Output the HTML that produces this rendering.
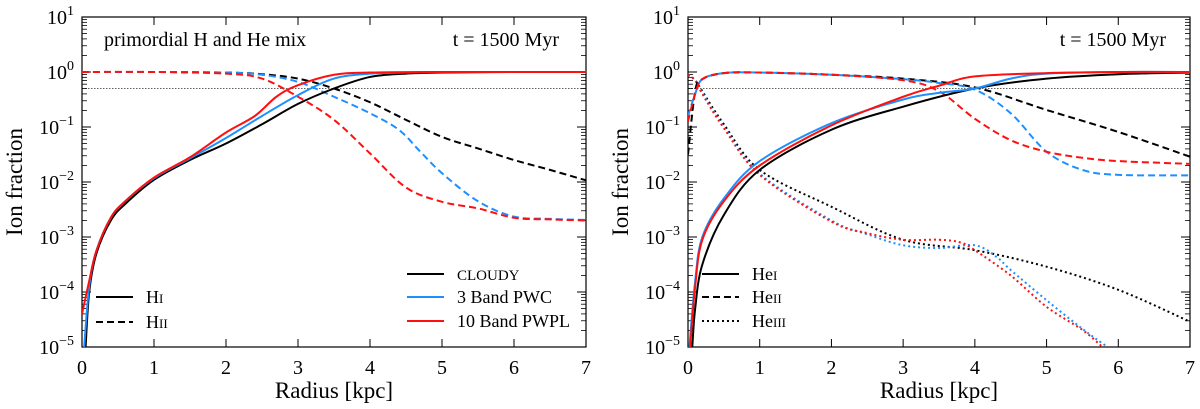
<!DOCTYPE html>
<html><head><meta charset="utf-8"><style>
body{margin:0;background:#fff;font-family:"Liberation Serif",serif;}
svg{display:block;}
</style></head><body>
<svg id="c" width="1200" height="409" viewBox="0 0 1200 409" style="font-family:'Liberation Serif','DejaVu Serif',serif"></svg>
<script>
// left panel series: [x kpc, log10 value]
const hiCloudy=[[0.05,-5],[0.1,-4],[0.2,-3.3],[0.4,-2.7],[0.6,-2.4],[1,-1.96],[1.5,-1.6],[2,-1.3],[2.5,-0.95],[3,-0.58],[3.5,-0.3],[4,-0.09],[4.5,-0.03],[5,-0.01],[6,0],[7,0]];
const hiPwc=[[0.03,-5],[0.1,-3.9],[0.2,-3.25],[0.4,-2.65],[0.6,-2.35],[1,-1.93],[1.5,-1.57],[2,-1.2],[2.5,-0.8],[3,-0.42],[3.5,-0.12],[4,-0.03],[4.5,-0.01],[5,0],[7,0]];
const hiPwpl=[[0,-4.4],[0.1,-3.8],[0.2,-3.25],[0.4,-2.65],[0.6,-2.35],[1,-1.92],[1.5,-1.55],[2,-1.1],[2.4,-0.8],[2.7,-0.45],[3,-0.24],[3.5,-0.05],[4,-0.01],[5,0],[7,0]];
const hiiCloudy=[[0,0],[1,0],[2,-0.01],[2.5,-0.04],[3,-0.12],[3.5,-0.3],[4,-0.55],[4.5,-0.87],[5,-1.18],[5.5,-1.39],[6,-1.6],[6.5,-1.78],[7,-1.97]];
const hiiPwc=[[0,0],[1,0],[2,-0.01],[2.5,-0.05],[3,-0.18],[3.5,-0.45],[4,-0.75],[4.4,-1.05],[4.7,-1.45],[5,-1.84],[5.5,-2.35],[6,-2.63],[6.5,-2.67],[7,-2.69]];
const hiiPwpl=[[0,0],[1,0],[2,-0.03],[2.5,-0.12],[3,-0.45],[3.5,-0.87],[4,-1.48],[4.5,-2.1],[5,-2.36],[5.5,-2.48],[6,-2.65],[6.5,-2.68],[7,-2.7]];
// right panel
const heiCloudy=[[0.06,-5],[0.1,-4.3],[0.2,-3.5],[0.5,-2.6],[1,-1.78],[2,-1.05],[3,-0.63],[4,-0.3],[5,-0.12],[6,-0.04],[7,-0.01]];
const heiPwc=[[0.02,-5],[0.1,-3.8],[0.2,-3],[0.5,-2.3],[1,-1.62],[2,-0.93],[3,-0.5],[3.5,-0.38],[4,-0.3],[4.5,-0.12],[5,-0.03],[6,0],[7,0]];
const heiPwpl=[[0.03,-5],[0.1,-3.9],[0.2,-3.05],[0.5,-2.35],[1,-1.7],[2,-0.97],[3,-0.45],[3.5,-0.25],[4,-0.08],[5,-0.02],[6,0],[7,0]];
const heiiCloudy=[[0,-1.5],[0.1,-0.35],[0.2,-0.13],[0.5,-0.02],[1,-0.01],[2,-0.05],[3,-0.12],[4,-0.28],[5,-0.69],[6,-1.09],[7,-1.54]];
const heiiPwc=[[0,-0.8],[0.1,-0.4],[0.2,-0.13],[0.5,-0.02],[1,-0.01],[2,-0.05],[3,-0.13],[3.5,-0.2],[4,-0.32],[4.5,-0.75],[5,-1.45],[5.5,-1.78],[6,-1.87],[7,-1.88]];
const heiiPwpl=[[0,-0.9],[0.1,-0.4],[0.2,-0.13],[0.5,-0.02],[1,-0.01],[2,-0.05],[3,-0.15],[3.5,-0.35],[4,-0.85],[4.5,-1.24],[5,-1.45],[5.5,-1.56],[6,-1.62],[7,-1.67]];
const heiiiCloudy=[[0,-0.05],[0.1,-0.15],[0.2,-0.35],[0.5,-0.95],[1,-1.78],[2,-2.45],[3,-3.05],[4,-3.24],[5,-3.54],[6,-3.96],[7,-4.54]];
const heiiiPwc=[[0,-0.05],[0.1,-0.15],[0.2,-0.38],[0.5,-1.0],[1,-1.85],[2,-2.7],[2.5,-2.95],[3,-3.15],[3.5,-3.2],[4,-3.15],[4.3,-3.36],[4.5,-3.6],[5,-4.15],[5.5,-4.67],[5.85,-5]];
const heiiiPwpl=[[0,-0.05],[0.1,-0.15],[0.2,-0.4],[0.5,-1.02],[1,-1.87],[2,-2.72],[2.5,-2.93],[3,-3.05],[3.5,-3.05],[3.8,-3.1],[4,-3.24],[4.5,-3.7],[5,-4.27],[5.5,-4.69],[5.78,-5]];
const xTicks=[0,1,2,3,4,5,6,7];
const yTicks=[1,0,-1,-2,-3,-4,-5];

const svg=document.getElementById('c');const NS='http://www.w3.org/2000/svg';
function mk(t,a,p){const e=document.createElementNS(NS,t);for(const k in a)e.setAttribute(k,a[k]);if(t==='text')e.style.fontFamily="'Liberation Serif','DejaVu Serif',serif";(p||svg).appendChild(e);return e;}
function panel(x0,x1,name){
  const y0=17,y1=347;
  const X=v=>x0+(x1-x0)*v/7, Y=l=>y0+(1-l)*(y1-y0)/6;
  const g=mk('g',{});
  const clip='cl'+name;const cp=mk('clipPath',{id:clip},g);mk('rect',{x:x0,y:y0,width:x1-x0,height:y1-y0},cp);
  xTicks.forEach(t=>{
    mk('line',{x1:X(t),x2:X(t),y1:y1,y2:y1-8,stroke:'#000','stroke-width':1},g);
    mk('line',{x1:X(t),x2:X(t),y1:y0,y2:y0+8,stroke:'#000','stroke-width':1},g);
    const tx=mk('text',{x:X(t),y:y1+27,'font-size':20,'text-anchor':'middle'},g);tx.textContent=t;
    
  });
  yTicks.forEach(t=>{
    mk('line',{x1:x0,x2:x0+9,y1:Y(t),y2:Y(t),stroke:'#000'},g);
    mk('line',{x1:x1,x2:x1-9,y1:Y(t),y2:Y(t),stroke:'#000'},g);
    if(t>-5){for(let m=2;m<10;m++){const yy=Y(t-1+Math.log10(m));
      mk('line',{x1:x0,x2:x0+5,y1:yy,y2:yy,stroke:'#000','stroke-width':0.8},g);
      mk('line',{x1:x1,x2:x1-5,y1:yy,y2:yy,stroke:'#000','stroke-width':0.8},g);}}
    const tx=mk('text',{x:x0-8,y:Y(t)+7,'font-size':20,'text-anchor':'end'},g);
    tx.innerHTML='10<tspan dy="-9" font-size="14">'+(t<0?'\u2212'+(-t):t)+'</tspan>';
    
  });
  mk('line',{x1:x0,x2:x1,y1:Y(Math.log10(0.5)),y2:Y(Math.log10(0.5)),stroke:'#000','stroke-width':0.7,'stroke-dasharray':'1.5,1.5'},g);
  const xt=mk('text',{x:(x0+x1)/2,y:398,'font-size':23,'text-anchor':'middle'},g);xt.textContent='Radius [kpc]';
  
  const yt=mk('text',{x:0,y:0,'font-size':23,'text-anchor':'middle',transform:`translate(${x0-60},${(y0+y1)/2}) rotate(-90)`},g);yt.textContent='Ion fraction';
  
  function line(d,col,dash,nm){
    const p=d.map(q=>[X(q[0]),Y(q[1])]);
    let s='M'+p[0][0]+','+p[0][1];
    for(let i=0;i<p.length-1;i++){const a=p[Math.max(i-1,0)],b=p[i],c=p[i+1],e=p[Math.min(i+2,p.length-1)];
      s+=`C${b[0]+(c[0]-a[0])/6},${b[1]+(c[1]-a[1])/6} ${c[0]-(e[0]-b[0])/6},${c[1]-(e[1]-b[1])/6} ${c[0]},${c[1]}`;}
    const el=mk('path',{d:s,fill:'none',stroke:col,'stroke-width':2,'stroke-dasharray':dash,'clip-path':`url(#${clip})`},g);
    
  }
  mk('rect',{x:x0,y:y0,width:x1-x0,height:y1-y0,fill:'none',stroke:'#000','stroke-width':1.2},g);
  return {g,X,Y,line};
}
const K='#000',B='#1e8fff',R='#ff1010',D='7,4',O='2,3';
const L=panel(82,586,'left-panel');
L.line(hiiCloudy,K,D,'hii-cloudy');L.line(hiiPwc,B,D,'hii-3band');L.line(hiiPwpl,R,D,'hii-10band');
L.line(hiCloudy,K,'','hi-cloudy');L.line(hiPwc,B,'','hi-3band');L.line(hiPwpl,R,'','hi-10band');
const Rp=panel(688,1190,'right-panel');
Rp.line(heiiiCloudy,K,O,'heiii-cloudy');Rp.line(heiiiPwc,B,O,'heiii-3band');Rp.line(heiiiPwpl,R,O,'heiii-10band');
Rp.line(heiiCloudy,K,D,'heii-cloudy');Rp.line(heiiPwc,B,D,'heii-3band');Rp.line(heiiPwpl,R,D,'heii-10band');
Rp.line(heiCloudy,K,'','hei-cloudy');Rp.line(heiPwc,B,'','hei-3band');Rp.line(heiPwpl,R,'','hei-10band');
function txt(x,y,s,fs,nm,anchor){const t=mk('text',{x,y,'font-size':fs,'text-anchor':anchor||'start'});t.innerHTML=s;return t;}
txt(104,46,'primordial H and He mix',20,'panel-label');
txt(559,46,'t = 1500 Myr',20,'time-label-left','end');
txt(1166,46,'t = 1500 Myr',20,'time-label-right','end');
function leg(x,y,col,dash,label,nm){mk('line',{x1:x,x2:x+37,y1:y,y2:y,stroke:col,'stroke-width':2,'stroke-dasharray':dash});txt(x+50,y+6,label,18,nm);}
const sc=s=>'<tspan font-size="13">'+s+'</tspan>';
leg(96,297,K,'','H'+sc('I'),'legend-hi');leg(96,322,K,D,'H'+sc('II'),'legend-hii');
leg(407,274,K,'','<tspan font-size="15">CLOUDY</tspan>','legend-cloudy');leg(407,297,B,'','3 Band PWC','legend-3band');leg(407,321,R,'','10 Band PWPL','legend-10band');
leg(702,274,K,'','He'+sc('I'),'legend-hei');leg(702,297,K,D,'He'+sc('II'),'legend-heii');leg(702,321,K,O,'He'+sc('III'),'legend-heiii');
</script>
</body></html>
